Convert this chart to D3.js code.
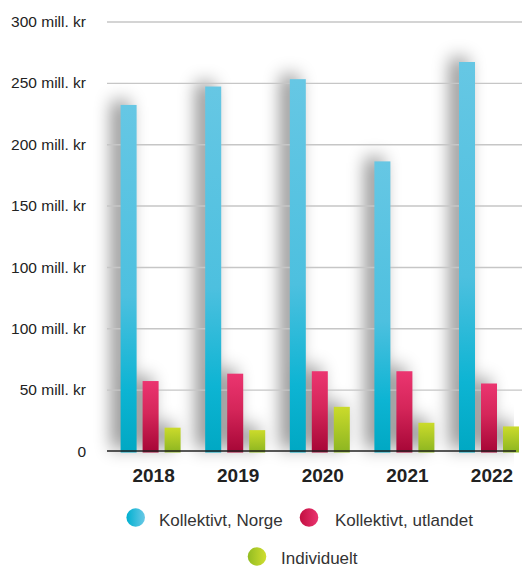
<!DOCTYPE html>
<html>
<head>
<meta charset="utf-8">
<script src="https://cdn.jsdelivr.net/npm/d3@7"></script>
<style>
  html, body { margin: 0; padding: 0; background: #ffffff; }
  svg { display: block; }
  text { font-family: "Liberation Sans", Arial, Helvetica, sans-serif; }
</style>
</head>
<body>
<svg id="chart" width="522" height="567"></svg>
<script>
// ---- data ----
const years = ["2018", "2019", "2020", "2021", "2022"];
const seriesNames = ["Kollektivt, Norge", "Kollektivt, utlandet", "Individuelt"];
const norge = [282, 297, 303, 236, 317];
const utlandet = [57, 63, 65, 65, 55];
const individuelt = [19, 17, 36, 23, 20];
const yTickValues = [0, 50, 100, 150, 200, 250, 300, 350];
const yTickLabels = ["0", "50 mill. kr", "100 mill. kr", "100 mill. kr", "150 mill. kr", "200 mill. kr", "250 mill. kr", "300 mill. kr"];

const seriesValues = [norge, utlandet, individuelt];
const seriesKeys = ["norge", "utlandet", "individuelt"];

const svg = d3.select("#chart");
const defs = svg.append("defs");

// gradients for bars (vertical)
const barGrad = {
  norge: [["0%", "#66c7e4"], ["55%", "#4dc0df"], ["82%", "#0db4d3"], ["100%", "#00a8c3"]],
  utlandet: [["0%", "#eb3570"], ["45%", "#d5265a"], ["100%", "#a60636"]],
  individuelt: [["0%", "#cbdb2b"], ["100%", "#8cb521"]]
};
Object.entries(barGrad).forEach(([k, stops]) => {
  const g = defs.append("linearGradient").attr("id", "bar-" + k)
    .attr("x1", 0).attr("y1", 0).attr("x2", 0).attr("y2", 1);
  stops.forEach(s => g.append("stop").attr("offset", s[0]).attr("stop-color", s[1]));
});
// gradients for legend dots (horizontal)
const dotGrad = {
  norge: ["#00b0d0", "#6ac9e6"],
  utlandet: ["#c20f40", "#ea3470"],
  individuelt: ["#92bc22", "#d0de30"]
};
Object.entries(dotGrad).forEach(([k, c]) => {
  const g = defs.append("linearGradient").attr("id", "dot-" + k)
    .attr("x1", 0).attr("y1", 0).attr("x2", 1).attr("y2", 0);
  g.append("stop").attr("offset", "0%").attr("stop-color", c[0]);
  g.append("stop").attr("offset", "100%").attr("stop-color", c[1]);
});
// shadow filter
const f = defs.append("filter").attr("id", "shadow")
  .attr("filterUnits", "userSpaceOnUse")
  .attr("x", 0).attr("y", 0).attr("width", 522).attr("height", 567);
f.append("feGaussianBlur").attr("in", "SourceAlpha").attr("stdDeviation", 9).attr("result", "b");
f.append("feOffset").attr("in", "b").attr("dx", -8).attr("dy", -4).attr("result", "o");
f.append("feComponentTransfer").attr("in", "o")
  .append("feFuncA").attr("type", "linear").attr("slope", 0.5);

// ---- scales ----
const y = d3.scaleLinear().domain([0, 350]).range([451, 21.5]);
const step = 84.6;
const x0 = d3.scaleBand().domain(years)
  .range([120.6, 120.6 + 4 * step + 60])
  .paddingInner((step - 60) / step).paddingOuter(0);
const x1 = d3.scaleBand().domain(seriesKeys)
  .range([0, x0.bandwidth()]).paddingInner(6 / 22).paddingOuter(0);

const rows = [];
years.forEach((yr, i) => {
  seriesKeys.forEach((k, j) => rows.push({ year: yr, key: k, value: seriesValues[j][i] }));
});

// shadows
svg.append("g").attr("filter", "url(#shadow)")
  .selectAll("rect").data(rows).join("rect")
  .attr("x", d => x0(d.year) + x1(d.key))
  .attr("y", d => y(d.value))
  .attr("width", x1.bandwidth())
  .attr("height", d => y(0) + 1.5 - y(d.value))
  .attr("fill", "#000");

// gridlines + y labels
const yAxis = d3.axisLeft(y).tickValues(yTickValues.slice(1))
  .tickSize(-(522 - 107)).tickFormat("");
const ga = svg.append("g").attr("transform", "translate(107,0)").call(yAxis);
ga.select(".domain").remove();
ga.selectAll(".tick line").attr("stroke", "#c6c6c6").attr("stroke-width", 1.4);

svg.append("g").selectAll("text").data(yTickValues).join("text")
  .attr("x", 86).attr("y", d => y(d))
  .attr("dy", "0.36em")
  .attr("text-anchor", "end")
  .attr("font-size", 15.5)
  .attr("fill", "#222")
  .text((d, i) => yTickLabels[i]);

// bars
svg.append("g").selectAll("rect").data(rows).join("rect")
  .attr("x", d => x0(d.year) + x1(d.key))
  .attr("y", d => y(d.value))
  .attr("width", x1.bandwidth())
  .attr("height", d => y(0) + 1.5 - y(d.value))
  .attr("fill", d => "url(#bar-" + d.key + ")");

// baseline
svg.append("line")
  .attr("x1", 107).attr("x2", 516)
  .attr("y1", y(0)).attr("y2", y(0))
  .attr("stroke", "#222").attr("stroke-width", 1.5);

// year labels
svg.append("g").selectAll("text").data(years).join("text")
  .attr("x", d => x0(d) + x0.bandwidth() / 2 + 3)
  .attr("y", 481.5)
  .attr("text-anchor", "middle")
  .attr("font-size", 19)
  .attr("font-weight", "bold")
  .attr("fill", "#222")
  .text(d => d);

// legend
const legendPos = [
  { cx: 135.7, cy: 517.5, tx: 159, ty: 526 },
  { cx: 309, cy: 517.5, tx: 335, ty: 526 },
  { cx: 257, cy: 556.5, tx: 281, ty: 563.5 }
];
const lg = svg.append("g").selectAll("g").data(seriesKeys).join("g");
lg.append("circle")
  .attr("cx", (d, i) => legendPos[i].cx)
  .attr("cy", (d, i) => legendPos[i].cy)
  .attr("r", 9.3)
  .attr("fill", d => "url(#dot-" + d + ")");
lg.append("text")
  .attr("x", (d, i) => legendPos[i].tx)
  .attr("y", (d, i) => legendPos[i].ty)
  .attr("font-size", 17)
  .attr("fill", "#333")
  .text((d, i) => seriesNames[i]);
</script>
</body>
</html>
